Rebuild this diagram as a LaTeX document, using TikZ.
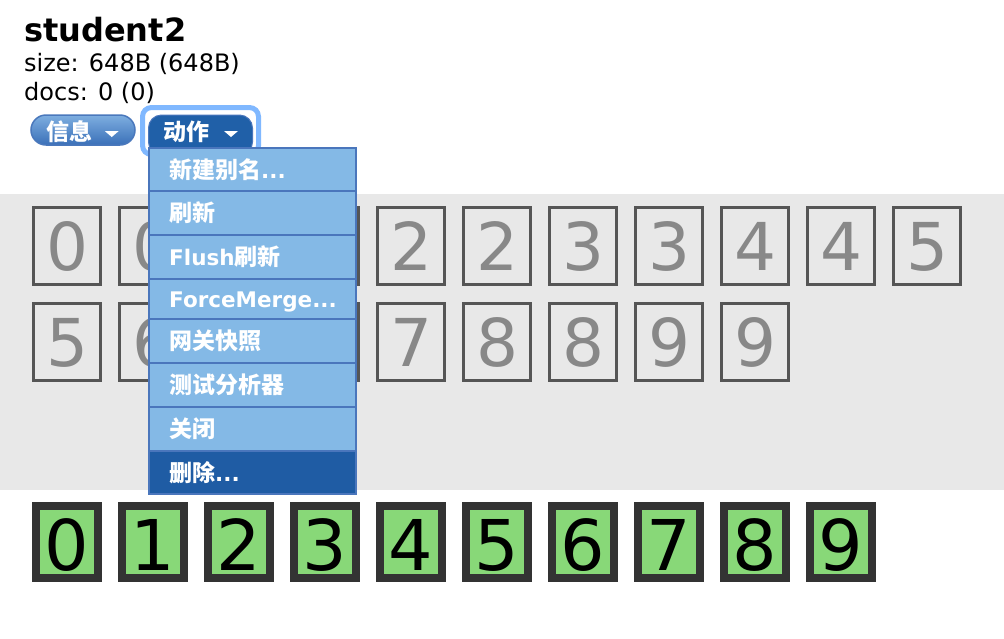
\documentclass[tikz,border=0pt]{standalone}
\usepackage{fontspec}
\usetikzlibrary{calc}
\setmainfont{DejaVu Sans}
\newfontfamily\cjkfont{Noto Sans CJK SC}
\newcommand\myzh[1]{{\cjkfont\bfseries\fontsize{23}{23}\selectfont #1}}
\definecolor{band}{HTML}{E8E8E8}
\definecolor{boxline}{HTML}{555555}
\definecolor{digitgray}{HTML}{888888}
\definecolor{greenfill}{HTML}{88D878}
\definecolor{greenline}{HTML}{333333}
\definecolor{menufill}{HTML}{84B9E6}
\definecolor{menuline}{HTML}{4A76BC}
\definecolor{menudark}{HTML}{1F5CA4}
\definecolor{actfill}{HTML}{2060A8}
\definecolor{infotop}{HTML}{7EAEE0}
\definecolor{infobot}{HTML}{3A70B8}
\definecolor{infoline}{HTML}{4A78BC}
\definecolor{glow}{HTML}{80B8FF}
\begin{document}
\begin{tikzpicture}[x=1pt,y=-1pt,
  hdr/.style={anchor=base west, inner sep=0pt, font=\fontsize{24}{24}\selectfont},
  graybox/.style={draw=boxline, line width=3pt, minimum width=67pt, minimum height=77pt,
    inner sep=0pt, text=digitgray, font=\fontsize{66}{66}\selectfont, text height=48pt, text depth=0pt},
  greenbox/.style={draw=greenline, fill=greenfill, line width=8pt, minimum width=62pt, minimum height=72pt,
    inner sep=0pt, text=black, font=\fontsize{70}{70}\selectfont, text height=56pt, text depth=0pt},
  menuitem/.style={draw=menuline, fill=menufill, line width=2pt, minimum width=207pt, inner sep=0pt},
  menulabel/.style={anchor=west, inner sep=0pt, text=white, font=\bfseries\fontsize{21.5}{21.5}\selectfont,
    text height=17pt, text depth=0pt},
  btnlabel/.style={anchor=west, inner sep=0pt, text=white, text height=17pt, text depth=0pt}
]
\useasboundingbox (0,0) rectangle (1004,638);
\fill[white] (0,0) rectangle (1004,638);
% header
\node[anchor=base west, inner sep=0pt, font=\bfseries\fontsize{32}{32}\selectfont] (title) at (24,41) {student2};
\node[hdr] (size) at (24,71) {size: 648B (648B)};
\node[hdr] (docs) at (24,100) {docs: 0 (0)};
% band
\fill[band] (0,194) rectangle (1004,490);
% gray replica boxes
\foreach \d [count=\i from 0] in {0,0,1,1,2,2,3,3,4,4,5}
  \node[graybox] (a\i) at (67+86*\i,246) {\d};
\foreach \d [count=\i from 0] in {5,6,6,7,7,8,8,9,9}
  \node[graybox] (b\i) at (67+86*\i,342) {\d};
% green boxes
\foreach \d [count=\i from 0] in {0,1,2,3,4,5,6,7,8,9}
  \node[greenbox] (c\i) at (67+86*\i,542) {\d};
% info button
\node[draw=infoline, line width=1.5pt, top color=infotop, bottom color=infobot,
  rounded corners=15pt, minimum width=104pt, minimum height=30pt, inner sep=0pt] (info) at (83,130) {};
\node[btnlabel] (infolab) at (46,132) {\myzh{信息}};
\fill[white] ($(info.east)+(-31,1)$) -- ($(info.east)+(-17,1)$) -- ($(info.east)+(-24,7)$) -- cycle;
% action button with glow
\draw[glow, line width=5pt, rounded corners=9pt] (142.5,107.5) rectangle (258.5,154.5);
\node[draw=menuline, line width=1pt, fill=actfill, rounded corners=13pt, minimum width=104pt,
  minimum height=40pt, inner sep=0pt] (act) at (200.5,135) {};
\node[btnlabel] (actlab) at (163,132) {\myzh{动作}};
\fill[white] ($(act.east)+(-29,-4)$) -- ($(act.east)+(-15,-4)$) -- ($(act.east)+(-22,2)$) -- cycle;
% dropdown menu
\node[menuitem, minimum height=43pt] (m1) at (252.5,169.5) {};
\node[menuitem, minimum height=44pt] (m2) at (252.5,213) {};
\node[menuitem, minimum height=44pt] (m3) at (252.5,257) {};
\node[menuitem, minimum height=40pt] (m4) at (252.5,299) {};
\node[menuitem, minimum height=44pt] (m5) at (252.5,341) {};
\node[menuitem, minimum height=44pt] (m6) at (252.5,385) {};
\node[menuitem, minimum height=44pt] (m7) at (252.5,429) {};
\node[menuitem, fill=menudark, minimum height=43pt] (m8) at (252.5,472.5) {};
\node[menulabel] (l1) at ([xshift=21pt]m1.west) {\myzh{新建别名}...};
\node[menulabel] (l2) at ([xshift=21pt]m2.west) {\myzh{刷新}};
\node[menulabel] (l3) at ([xshift=21pt]m3.west) {Flush\myzh{刷新}};
\node[menulabel] (l4) at ([xshift=21pt]m4.west) {ForceMerge...};
\node[menulabel] (l5) at ([xshift=21pt]m5.west) {\myzh{网关快照}};
\node[menulabel] (l6) at ([xshift=21pt]m6.west) {\myzh{测试分析器}};
\node[menulabel] (l7) at ([xshift=21pt]m7.west) {\myzh{关闭}};
\node[menulabel] (l8) at ([xshift=21pt]m8.west) {\myzh{删除}...};
\end{tikzpicture}
\end{document}
